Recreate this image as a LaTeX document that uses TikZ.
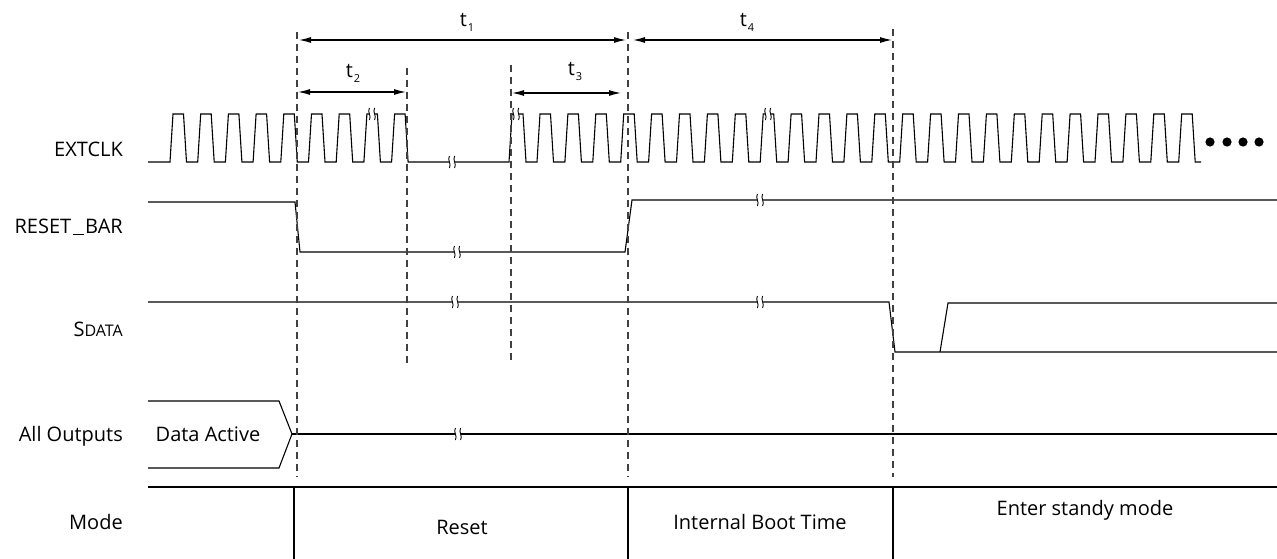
\documentclass[tikz,border=0pt]{standalone}
\usepackage{fontspec}
\setmainfont{Open Sans}
\usetikzlibrary{arrows.meta}
\newcommand{\tsub}[1]{t\kern1pt\raisebox{-5pt}{\fontsize{11}{12}\selectfont #1}}
\tikzset{
  sig/.style={line width=1.1pt, black},
  guide/.style={line width=1.1pt, draw=black!75, dash pattern=on 7pt off 5pt},
  dim/.style={line width=1.1pt, {Latex[length=12pt,width=6pt]}-{Latex[length=12pt,width=6pt]}},
  lbl/.style={font=\fontsize{20}{24}\selectfont, inner sep=0pt},
  brk/.pic={
    \fill[white] (-3.2,-4) rectangle (3.2,4);
    \draw[line width=0.9pt] (-2.6,-6) .. controls (-5,-2) and (-0.2,2) .. (-2.6,6);
    \draw[line width=0.9pt] (2.6,-6) .. controls (0.2,-2) and (5,2) .. (2.6,6);
  }
}
\begin{document}
\begin{tikzpicture}[x=1pt,y=-1pt]
\useasboundingbox (0,0) rectangle (1277,559);

% signal labels
\node[lbl, anchor=east] (lclk) at (123,149) {EXTCLK};
\node[lbl, anchor=east] (lrst) at (123,227) {RESET\kern1.5pt\rule[-1.5pt]{11pt}{1.2pt}\kern1.5pt BAR};
\node[lbl, anchor=east] (lsd) at (123,329) {S{\fontsize{16}{19}\selectfont DATA}};
\node[lbl, anchor=east] (lall) at (123,436) {All Outputs};
\node[lbl, anchor=east] (lmode) at (123,522) {Mode};

% EXTCLK
\draw[sig] (148,162) -- (170,162)
  \foreach \k in {0,...,8} { -- ++(3,-48) -- ++(10.5,0) -- ++(3,48) -- ++(11.2,0) }
  -- (509,162) -- (512,114) -- (523,114) -- (526,162) -- (537,162)
  \foreach \k in {0,...,22} { -- ++(3,-48) -- ++(10.5,0) -- ++(3,48) -- ++(11.4,0) }
  -- ++(3,-48) -- ++(10.5,0) -- ++(3,48) -- ++(6,0);
\pic at (372,114) {brk};
\pic at (516,114) {brk};
\pic at (768,114) {brk};
\pic at (452,162) {brk};
\foreach \i/\xx in {1/1210,2/1227,3/1243,4/1259} {
  \fill (\xx,142) circle (4.6);
}

% RESET_BAR
\draw[sig] (148,202) -- (295,202) -- (300,252) -- (625,252) -- (632,200) -- (1277,200);
\pic at (457,252) {brk};
\pic at (760,200) {brk};

% SDATA
\draw[sig] (148,302) -- (889,302) -- (895,352) -- (1277,352);
\draw[sig] (940,352) -- (948,303) -- (1277,303);
\pic at (455,302) {brk};
\pic at (760,302) {brk};

% All outputs
\draw[sig] (148,401) -- (279,401) -- (292,434) -- (279,468) -- (148,468);
\draw[sig] (292,434) -- (1277,434);
\pic at (458,434) {brk};
\node[lbl] (da) at (208,434) {Data Active};

% Mode
\draw[sig] (148,487) -- (1277,487);
\foreach \xx in {294,628,893} { \draw[sig] (\xx,487) -- (\xx,559); }
\node[lbl] (mreset) at (462,527) {Reset};
\node[lbl] (mboot) at (760,522) {Internal Boot Time};
\node[lbl] (mstand) at (1085,510) {Enter standy mode};

% guide lines
\coordinate (g1t) at (297,32);  \coordinate (g1b) at (297,477);
\coordinate (g2t) at (407,68);  \coordinate (g2b) at (407,365);
\coordinate (g3t) at (511,65);  \coordinate (g3b) at (511,362);
\coordinate (g4t) at (628,32);  \coordinate (g4b) at (628,477);
\coordinate (g5t) at (893,29);  \coordinate (g5b) at (893,477);
\foreach \g in {1,...,5} { \draw[guide] (g\g t) -- (g\g b); }

% dimension arrows
\coordinate (a1l) at (299,40);  \coordinate (a1r) at (626,40);
\coordinate (a2l) at (298,92);  \coordinate (a2r) at (406,92);
\coordinate (a3l) at (512,93);  \coordinate (a3r) at (621,93);
\coordinate (a4l) at (633,40);  \coordinate (a4r) at (892,40);
\draw[dim] (a1l) -- (a1r);
\draw[dim] (a2l) -- (a2r);
\draw[dim] (a3l) -- (a3r);
\draw[dim] (a4l) -- (a4r);
\node[lbl] (t1) at (467,22) {\tsub{1}};
\node[lbl] (t2) at (353,73) {\tsub{2}};
\node[lbl] (t3) at (575,71) {\tsub{3}};
\node[lbl] (t4) at (747,22) {\tsub{4}};
\end{tikzpicture}
\end{document}
